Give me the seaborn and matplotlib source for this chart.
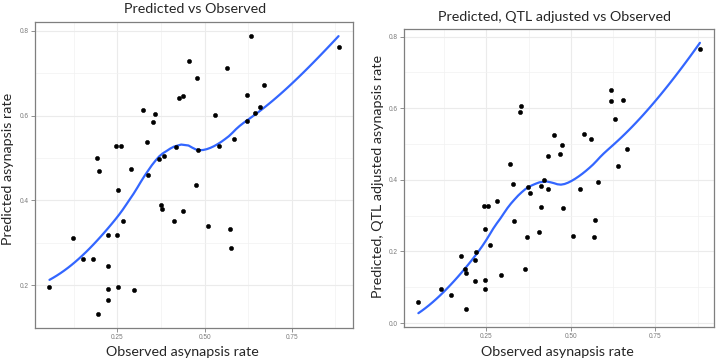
import numpy as np
import pandas as pd
import matplotlib
matplotlib.use("Agg")
import matplotlib.pyplot as plt
import seaborn as sns

sns.set_theme(style="white")
plt.rcParams['font.family'] = ['Lato', 'DejaVu Sans']

# panel 1: predicted vs observed
obs_left = [0.884, 0.634, 0.455, 0.564, 0.479, 0.671, 0.622, 0.438, 0.427, 0.658,
            0.643, 0.323, 0.358, 0.531, 0.353, 0.621, 0.584, 0.334, 0.247, 0.261,
            0.418, 0.481, 0.542, 0.192, 0.197, 0.289, 0.384, 0.370, 0.337, 0.474,
            0.252, 0.376, 0.377, 0.438, 0.267, 0.411, 0.510, 0.572, 0.576, 0.123,
            0.224, 0.250, 0.151, 0.181, 0.224, 0.055, 0.224, 0.252, 0.298, 0.224,
            0.195]
pred_left = [0.763, 0.788, 0.728, 0.712, 0.689, 0.673, 0.648, 0.646, 0.642, 0.621,
             0.607, 0.614, 0.604, 0.601, 0.586, 0.587, 0.545, 0.537, 0.528, 0.528,
             0.527, 0.519, 0.528, 0.500, 0.470, 0.474, 0.504, 0.498, 0.460, 0.437,
             0.424, 0.389, 0.380, 0.374, 0.352, 0.351, 0.339, 0.333, 0.287, 0.312,
             0.318, 0.318, 0.262, 0.261, 0.245, 0.197, 0.190, 0.197, 0.189, 0.165,
             0.132]

# panel 2: predicted (QTL adjusted) vs observed
obs_right = [0.882, 0.619, 0.618, 0.654, 0.631, 0.353, 0.349, 0.450, 0.539, 0.561,
             0.475, 0.667, 0.469, 0.433, 0.319, 0.639, 0.422, 0.580, 0.330, 0.373,
             0.413, 0.433, 0.526, 0.380, 0.243, 0.255, 0.283, 0.413, 0.476, 0.331,
             0.573, 0.246, 0.407, 0.505, 0.370, 0.568, 0.262, 0.220, 0.175, 0.218,
             0.187, 0.191, 0.365, 0.292, 0.217, 0.247, 0.117, 0.245, 0.146, 0.049,
             0.190]
pred_right = [0.765, 0.650, 0.621, 0.622, 0.569, 0.605, 0.588, 0.525, 0.529, 0.514,
              0.497, 0.485, 0.472, 0.467, 0.443, 0.438, 0.400, 0.393, 0.387, 0.381,
              0.382, 0.374, 0.373, 0.362, 0.328, 0.327, 0.341, 0.325, 0.321, 0.286,
              0.287, 0.263, 0.253, 0.244, 0.241, 0.240, 0.218, 0.197, 0.188, 0.177,
              0.150, 0.141, 0.150, 0.135, 0.118, 0.121, 0.094, 0.096, 0.079, 0.058,
              0.039]


def loess(x, y, span=0.75, n_out=80):
    # local quadratic fit with tricube weights, like R's loess defaults
    x = np.asarray(x)
    y = np.asarray(y)
    q = int(np.floor(len(x) * span))
    xs = np.linspace(x.min(), x.max(), n_out)
    ys = []
    for x0 in xs:
        d = np.abs(x - x0)
        h = np.sort(d)[q - 1]
        w = np.clip(1 - (d / h) ** 3, 0, None) ** 3
        c = np.polyfit(x - x0, y, 2, w=np.sqrt(w))
        ys.append(c[-1])
    return xs, np.array(ys)


W, H = 720, 362
fig = plt.figure(figsize=(7.2, 3.62), dpi=100)


def panel(ax, obs, pred, title, ylab, yticks, title_xy, xlab_x, ylab_xy):
    df = pd.DataFrame({'obs': obs, 'pred': pred})
    sx, sy = loess(df['obs'], df['pred'])
    sm = pd.DataFrame({'obs': sx, 'pred': sy})
    sns.lineplot(data=sm, x='obs', y='pred', ax=ax, color='#3366FF', lw=1.6, zorder=3)
    sns.scatterplot(data=df, x='obs', y='pred', ax=ax, color='black', s=9,
                    edgecolor='black', linewidth=0.4, zorder=4)
    # ggplot-style 5% expansion
    allx = np.concatenate([df['obs'], sx])
    ally = np.concatenate([df['pred'], sy])
    rx = allx.max() - allx.min()
    ry = ally.max() - ally.min()
    ax.set_xlim(allx.min() - 0.05 * rx, allx.max() + 0.05 * rx)
    ax.set_ylim(ally.min() - 0.05 * ry, ally.max() + 0.05 * ry)
    ax.set_xticks([0.25, 0.5, 0.75])
    ax.set_xticklabels(['0.25', '0.50', '0.75'])
    ax.set_xticks([0.125, 0.375, 0.625, 0.875], minor=True)
    ax.set_yticks(yticks)
    ax.set_yticklabels([f'{v:.1f}' for v in yticks])
    ax.set_yticks([v + 0.1 for v in yticks[:-1]], minor=True)
    ax.grid(True, which='major', color='#EBEBEB', lw=0.8)
    ax.grid(True, which='minor', color='#F2F2F2', lw=0.5)
    ax.set_axisbelow(True)
    for s in ax.spines.values():
        s.set_color('#7F7F7F')
        s.set_linewidth(0.9)
    ax.tick_params(which='major', length=3, width=0.6, color='#7F7F7F',
                   labelsize=4.7, labelcolor='#7A7A7A', pad=1.5, bottom=True, left=True)
    ax.tick_params(which='minor', length=0)
    for lab in ax.get_xticklabels() + ax.get_yticklabels():
        lab.set_family(['Liberation Sans', 'DejaVu Sans'])
    ax.set_xlabel('Observed asynapsis rate', fontsize=10.3)
    ax.xaxis.set_label_coords(xlab_x / W, 1 - 352 / H, transform=fig.transFigure)
    ax.xaxis.label.set_va('center')
    ax.set_ylabel(ylab, fontsize=10.3)
    ax.yaxis.set_label_coords(ylab_xy[0] / W, 1 - ylab_xy[1] / H, transform=fig.transFigure)
    ax.yaxis.label.set_va('center')
    fig.text(title_xy[0] / W, 1 - title_xy[1] / H, title, fontsize=10.3,
             ha='center', va='center')


ax1 = fig.add_axes([35 / W, 34 / H, 318 / W, 306 / H])
ax2 = fig.add_axes([404.3 / W, 35.3 / H, 309.7 / W, 297.4 / H])

panel(ax1, obs_left, pred_left, 'Predicted vs Observed', 'Predicted asynapsis rate',
      [0.2, 0.4, 0.6, 0.8], (195.5, 9), 182, (8, 169))
panel(ax2, obs_right, pred_right, 'Predicted, QTL adjusted vs Observed',
      'Predicted, QTL adjusted asynapsis rate', [0.0, 0.2, 0.4, 0.6, 0.8],
      (554, 17), 557, (378, 176))

fig.savefig('out.png', dpi=100)
